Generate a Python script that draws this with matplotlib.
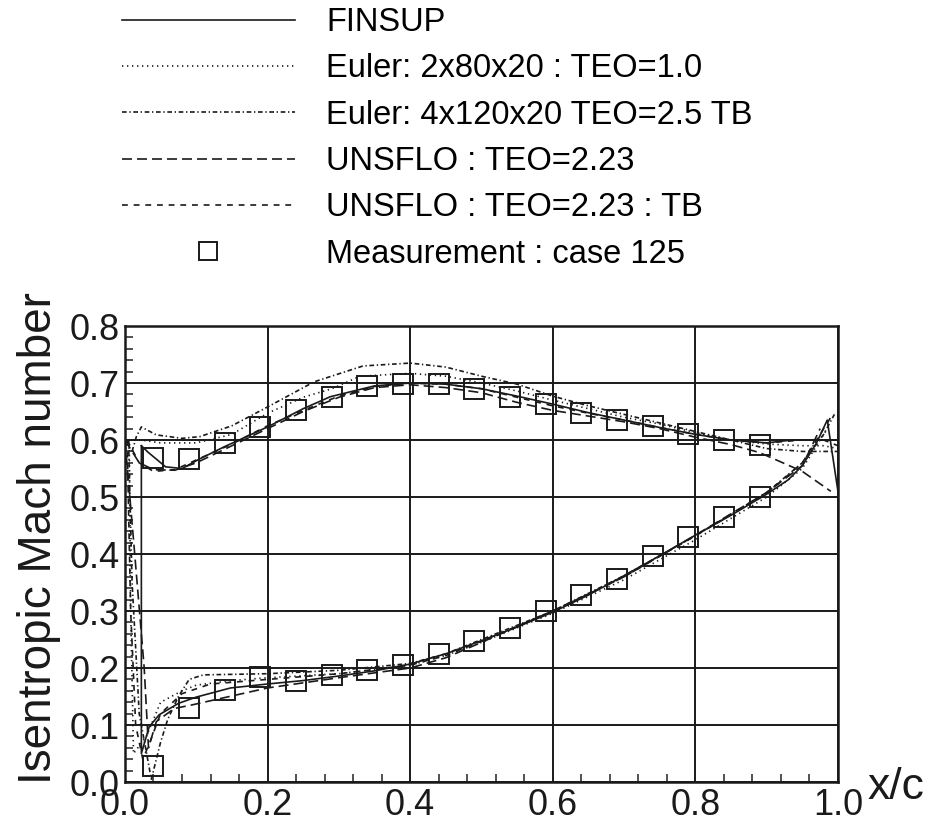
import matplotlib
matplotlib.use("Agg")
import matplotlib.pyplot as plt
import matplotlib.ticker as ticker

plt.rcParams['font.family'] = ['Liberation Sans', 'DejaVu Sans']

# measurement, case 125 (suction side / pressure side)
x_meas = [0.04, 0.09, 0.14, 0.19, 0.24, 0.29, 0.34, 0.39, 0.44,
          0.49, 0.54, 0.59, 0.64, 0.69, 0.74, 0.79, 0.84, 0.89]
m_meas_up = [0.568, 0.566, 0.594, 0.622, 0.652, 0.675, 0.694, 0.698, 0.699,
             0.690, 0.676, 0.664, 0.648, 0.636, 0.624, 0.611, 0.600, 0.592]
m_meas_lo = [0.028, 0.130, 0.161, 0.185, 0.178, 0.188, 0.196, 0.206, 0.225,
             0.248, 0.270, 0.300, 0.328, 0.357, 0.396, 0.429, 0.465, 0.500]

# FINSUP
x_fin_up = [0.023, 0.032, 0.057, 0.08, 0.105, 0.139, 0.2, 0.25, 0.288, 0.35, 0.4,
            0.45, 0.5, 0.55, 0.6, 0.65, 0.7, 0.75, 0.8, 0.85, 0.9, 0.935, 0.97, 1.0]
m_fin_up = [0.59, 0.579, 0.553, 0.55, 0.567, 0.588, 0.623, 0.655, 0.676, 0.695, 0.70,
            0.698, 0.69, 0.677, 0.663, 0.648, 0.635, 0.622, 0.61, 0.60, 0.595, 0.60, 0.60, 0.60]
x_fin_lo = [0.023, 0.023, 0.034, 0.048, 0.075, 0.10, 0.148, 0.2, 0.25, 0.3, 0.35, 0.4,
            0.45, 0.5, 0.55, 0.6, 0.65, 0.7, 0.75, 0.8, 0.85, 0.9, 0.93, 0.95, 0.97, 0.985, 1.0]
m_fin_lo = [0.59, 0.05, 0.097, 0.118, 0.138, 0.149, 0.165, 0.172, 0.178, 0.186, 0.195, 0.207,
            0.225, 0.248, 0.272, 0.298, 0.328, 0.362, 0.397, 0.433, 0.468, 0.505, 0.53, 0.555,
            0.595, 0.635, 0.51]

# Euler 2x80x20, TEO=1.0
x_eu1_up = [0.006, 0.023, 0.05, 0.1, 0.15, 0.2, 0.25, 0.29, 0.33, 0.4, 0.45, 0.5,
            0.55, 0.6, 0.65, 0.7, 0.75, 0.8, 0.85, 0.9, 0.95, 0.98, 1.0]
m_eu1_up = [0.60, 0.60, 0.595, 0.595, 0.61, 0.647, 0.675, 0.69, 0.712, 0.717, 0.712, 0.70,
            0.686, 0.67, 0.655, 0.64, 0.628, 0.613, 0.60, 0.593, 0.59, 0.59, 0.585]
x_eu1_lo = [0.006, 0.008, 0.012, 0.03, 0.05, 0.08, 0.1, 0.15, 0.2, 0.3, 0.4, 0.45, 0.5,
            0.6, 0.7, 0.8, 0.9, 0.95, 0.985]
m_eu1_lo = [0.60, 0.30, 0.05, 0.08, 0.14, 0.16, 0.17, 0.178, 0.183, 0.19, 0.205, 0.222, 0.245,
            0.296, 0.355, 0.425, 0.5, 0.55, 0.62]

# Euler 4x120x20, TEO=2.5, TB
x_eu2_up = [0.01, 0.016, 0.023, 0.044, 0.08, 0.105, 0.15, 0.2, 0.265, 0.334, 0.4, 0.45,
            0.5, 0.55, 0.6, 0.65, 0.7, 0.75, 0.8, 0.85, 0.9, 0.95, 1.0]
m_eu2_up = [0.58, 0.606, 0.623, 0.609, 0.603, 0.606, 0.625, 0.658, 0.702, 0.73, 0.735, 0.728,
            0.712, 0.698, 0.677, 0.66, 0.645, 0.63, 0.615, 0.60, 0.585, 0.58, 0.58]
x_eu2_lo = [0.005, 0.01, 0.02, 0.037, 0.05, 0.06, 0.075, 0.09, 0.11, 0.2, 0.3, 0.4, 0.45,
            0.5, 0.6, 0.7, 0.8, 0.9, 0.95, 0.98, 0.995]
m_eu2_lo = [0.60, 0.35, 0.12, 0.005, 0.07, 0.11, 0.15, 0.18, 0.188, 0.19, 0.196, 0.208, 0.225,
            0.25, 0.30, 0.362, 0.432, 0.508, 0.56, 0.61, 0.645]

# UNSFLO, TEO=2.23
x_un1_up = [0.0, 0.02, 0.04, 0.07, 0.1, 0.15, 0.2, 0.25, 0.3, 0.35, 0.4, 0.45, 0.5,
            0.55, 0.6, 0.65, 0.7, 0.75, 0.8, 0.85, 0.89, 0.95, 0.99]
m_un1_up = [0.60, 0.56, 0.548, 0.547, 0.56, 0.59, 0.62, 0.65, 0.675, 0.692, 0.697, 0.692, 0.683,
            0.666, 0.652, 0.642, 0.632, 0.62, 0.605, 0.592, 0.578, 0.545, 0.51]
x_un1_lo = [0.0, 0.013, 0.027, 0.033, 0.044, 0.069, 0.093, 0.125, 0.2, 0.3, 0.4, 0.45, 0.5,
            0.6, 0.7, 0.8, 0.9, 0.95, 0.975]
m_un1_lo = [0.60, 0.41, 0.20, 0.06, 0.106, 0.129, 0.135, 0.144, 0.165, 0.183, 0.20, 0.218, 0.245,
            0.30, 0.36, 0.433, 0.508, 0.555, 0.62]

# UNSFLO, TEO=2.23, TB
x_un2_up = [0.003, 0.02, 0.04, 0.07, 0.1, 0.15, 0.2, 0.25, 0.3, 0.35, 0.4, 0.45, 0.5,
            0.55, 0.6, 0.65, 0.7, 0.75, 0.8, 0.85, 0.9, 0.95, 0.98, 1.0]
m_un2_up = [0.60, 0.56, 0.545, 0.548, 0.565, 0.593, 0.625, 0.652, 0.677, 0.694, 0.70, 0.698, 0.69,
            0.675, 0.66, 0.647, 0.635, 0.622, 0.61, 0.60, 0.595, 0.60, 0.60, 0.59]
x_un2_lo = [0.003, 0.008, 0.015, 0.025, 0.035, 0.05, 0.08, 0.12, 0.2, 0.3, 0.4, 0.45, 0.5,
            0.6, 0.7, 0.8, 0.9, 0.95, 0.97, 0.99]
m_un2_lo = [0.60, 0.30, 0.10, 0.04, 0.07, 0.12, 0.155, 0.172, 0.18, 0.19, 0.205, 0.222, 0.247,
            0.30, 0.36, 0.432, 0.506, 0.56, 0.60, 0.64]

labels = ['FINSUP', 'Euler: 2x80x20 : TEO=1.0', 'Euler: 4x120x20 TEO=2.5 TB',
          'UNSFLO : TEO=2.23', 'UNSFLO : TEO=2.23 : TB', 'Measurement : case 125']

ink = '#1a1a1a'
fig = plt.figure(figsize=(9.41, 8.25), dpi=100)
ax = fig.add_axes([0.1328, 0.0521, 0.7577, 0.5527])

lw = 1.2
series = [
    (x_fin_up, m_fin_up, x_fin_lo, m_fin_lo, '-'),
    (x_eu1_up, m_eu1_up, x_eu1_lo, m_eu1_lo, (0, (0.8, 2.2))),
    (x_eu2_up, m_eu2_up, x_eu2_lo, m_eu2_lo, (0, (2.8, 1.6, 0.8, 1.6))),
    (x_un1_up, m_un1_up, x_un1_lo, m_un1_lo, (0, (6, 3))),
    (x_un2_up, m_un2_up, x_un2_lo, m_un2_lo, (0, (3.5, 3.5))),
]
handles = []
for (xu, mu, xl, ml, ls), lab in zip(series, labels):
    h, = ax.plot(xu, mu, color=ink, lw=lw, ls=ls, label=lab)
    ax.plot(xl, ml, color=ink, lw=lw, ls=ls)
    handles.append(h)

sq, = ax.plot(x_meas, m_meas_up, 's', ms=15, mfc='none', mec=ink, mew=1.4,
              label=labels[-1])
ax.plot(x_meas, m_meas_lo, 's', ms=15, mfc='none', mec=ink, mew=1.4)
handles.append(sq)

ax.set_xlim(0, 1.0)
ax.set_ylim(0, 0.8)
ax.xaxis.set_major_locator(ticker.MultipleLocator(0.2))
ax.xaxis.set_minor_locator(ticker.MultipleLocator(0.04))
ax.yaxis.set_major_locator(ticker.MultipleLocator(0.1))
ax.yaxis.set_minor_locator(ticker.MultipleLocator(0.02))
ax.xaxis.set_major_formatter(ticker.FormatStrFormatter('%.1f'))
ax.yaxis.set_major_formatter(ticker.FormatStrFormatter('%.1f'))
ax.tick_params(which='major', length=0, labelsize=26, pad=4, colors=ink)
ax.tick_params(which='minor', direction='in', length=6, width=1.2, color='#333')
ax.grid(which='major', color=ink, lw=1.4)
ax.set_axisbelow(True)
for sp in ax.spines.values():
    sp.set_linewidth(1.8)
    sp.set_color(ink)

ax.set_ylabel('Isentropic Mach number', fontsize=33, color=ink)
ax.yaxis.set_label_coords(-0.09, 0.535)
fig.text(0.922, 0.045, 'x/c', fontsize=32, ha='left', va='center', color=ink)

ax.legend(handles=handles, loc='upper left', bbox_to_anchor=(122 / 941, 1 - 7 / 825),
          bbox_transform=fig.transFigure, frameon=False, fontsize=23.5,
          handlelength=5.3, handletextpad=0.95, labelspacing=0.47,
          borderpad=0, borderaxespad=0, markerscale=0.9)

fig.savefig('out.png', dpi=100)
